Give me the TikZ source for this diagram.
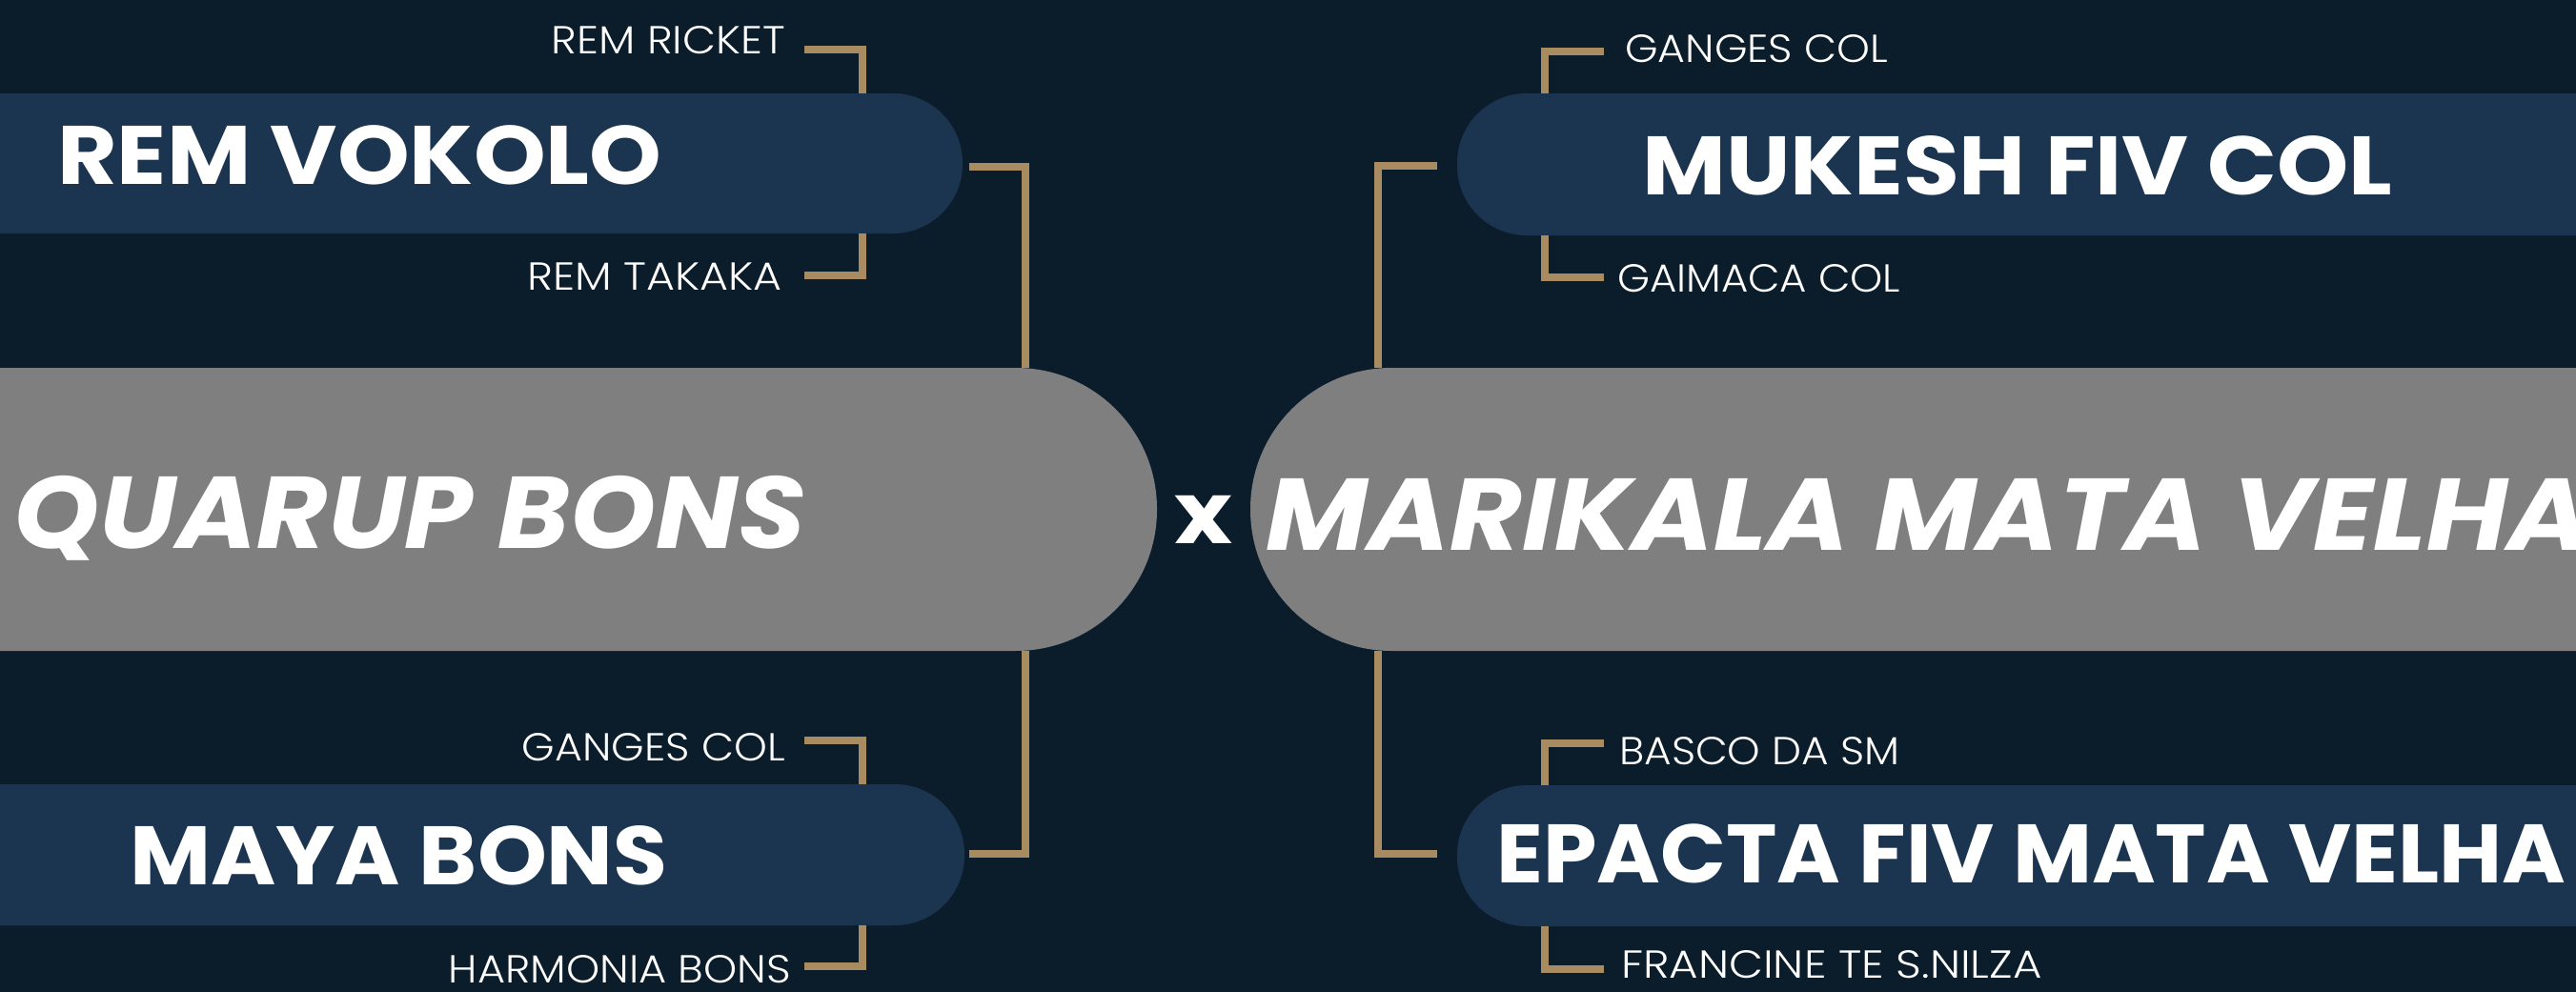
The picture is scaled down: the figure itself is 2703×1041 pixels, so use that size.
\documentclass[tikz,border=0pt]{standalone}
\usepackage{fontspec}
\setmainfont{Poppins}
\newfontfamily\lightfont{Poppins Light}
\definecolor{bgc}{HTML}{0B1D2B}
\definecolor{boxblue}{HTML}{1B3550}
\definecolor{boxgray}{HTML}{7F7F7F}
\definecolor{goldc}{HTML}{A98B62}
\tikzset{
  teambox/.style={fill=boxblue, draw=none, rounded corners=73pt, inner sep=0pt},
  finalbox/.style={fill=boxgray, draw=none, rounded corners=148pt, inner sep=0pt},
  link/.style={draw=goldc, line width=8pt, line join=miter},
  teamtxt/.style={text=white, font=\fontsize{87}{90}\selectfont\bfseries\addfontfeatures{FakeStretch=#1}, inner sep=0pt},
  finaltxt/.style={text=white, font=\fontsize{107}{110}\selectfont\bfseries\itshape\addfontfeatures{FakeStretch=#1}, inner sep=0pt},
  labtxt/.style={text=white, font=\fontsize{41}{44}\lightfont\addfontfeatures{FakeStretch=#1}, inner sep=0pt},
}
\begin{document}
\begin{tikzpicture}[x=1pt, y=-1pt]
\useasboundingbox (0,0) rectangle (2703,1041);
\clip (0,0) rectangle (2703,1041);
\fill[bgc] (0,0) rectangle (2703,1041);

% boxes
\node[teambox, minimum width=1210pt, minimum height=147pt] (rv) at (405,171.5) {};
\node[teambox, minimum width=1212pt, minimum height=148pt] (mb) at (406,897) {};
\node[finalbox, minimum width=1514pt, minimum height=297pt] (qb) at (457,534.5) {};
\node[finalbox, minimum width=1700pt, minimum height=297pt] (mv) at (2162,534.5) {};
\node[teambox, minimum width=1400pt, minimum height=149pt] (mk) at (2229,172.5) {};
\node[teambox, minimum width=1400pt, minimum height=148pt] (ep) at (2229,898) {};

% coordinates for brackets
\coordinate (l1a) at (844,52);   \coordinate (l1b) at (905,98);
\coordinate (l2a) at (905,245);  \coordinate (l2b) at (844,289);
\coordinate (l3a) at (1017,175); \coordinate (l3b) at (1076,386);
\coordinate (l4a) at (844,777);  \coordinate (l4b) at (905,823);
\coordinate (l5a) at (905,971);  \coordinate (l5b) at (844,1014);
\coordinate (l6a) at (1076,683); \coordinate (l6b) at (1017,896);
\coordinate (r1a) at (1683,54);  \coordinate (r1b) at (1621,98);
\coordinate (r2a) at (1621,247); \coordinate (r2b) at (1683,291);
\coordinate (r3a) at (1508,174); \coordinate (r3b) at (1446,386);
\coordinate (r4a) at (1683,780); \coordinate (r4b) at (1621,824);
\coordinate (r5a) at (1621,972); \coordinate (r5b) at (1683,1017);
\coordinate (r6a) at (1446,683); \coordinate (r6b) at (1508,896);

\draw[link] (l1a) -| (l1b);
\draw[link] (l2a) |- (l2b);
\draw[link] (l3a) -| (l3b);
\draw[link] (l4a) -| (l4b);
\draw[link] (l5a) |- (l5b);
\draw[link] (l6a) |- (l6b);
\draw[link] (r1a) -| (r1b);
\draw[link] (r2a) |- (r2b);
\draw[link] (r3a) -| (r3b);
\draw[link] (r4a) -| (r4b);
\draw[link] (r5a) |- (r5b);
\draw[link] (r6a) |- (r6b);

% team texts
\node[teamtxt=1.107, anchor=base west] (trv) at (60,193) {REM VOKOLO};
\node[teamtxt=1.066, anchor=base west] (tmb) at (136,928) {MAYA BONS};
\node[teamtxt=1.10, anchor=base west] (tmk) at (1723,204) {MUKESH FIV COL};
\node[teamtxt=1.04, anchor=base west] (tep) at (1570,926) {EPACTA FIV MATA VELHA};
\node[finaltxt=1.07, anchor=base west] (tqb) at (14,575) {QUARUP BONS};
\node[finaltxt=1.09, anchor=base west] (tmv) at (1328,577) {MARIKALA MATA VELHA};
\node[text=white, font=\fontsize{90}{92}\selectfont\bfseries\addfontfeatures{FakeStretch=1.15}, inner sep=0pt, anchor=base] (vs) at (1263,570) {x};

% labels
\node[labtxt=1.11, anchor=base east] (a1) at (824,57) {REM RICKET};
\node[labtxt=1.12, anchor=base east] (a2) at (821,304) {REM TAKAKA};
\node[labtxt=1.08, anchor=base east] (a3) at (824,798) {GANGES COL};
\node[labtxt=1.09, anchor=base east] (a4) at (830,1031) {HARMONIA BONS};
\node[labtxt=1.08, anchor=base west] (b1) at (1705,66) {GANGES COL};
\node[labtxt=1.06, anchor=base west] (b2) at (1697,306) {GAIMACA COL};
\node[labtxt=1.07, anchor=base west] (b3) at (1699,802) {BASCO DA SM};
\node[labtxt=1.14, anchor=base west] (b4) at (1701,1026) {FRANCINE TE S.NILZA};
\end{tikzpicture}
\end{document}
